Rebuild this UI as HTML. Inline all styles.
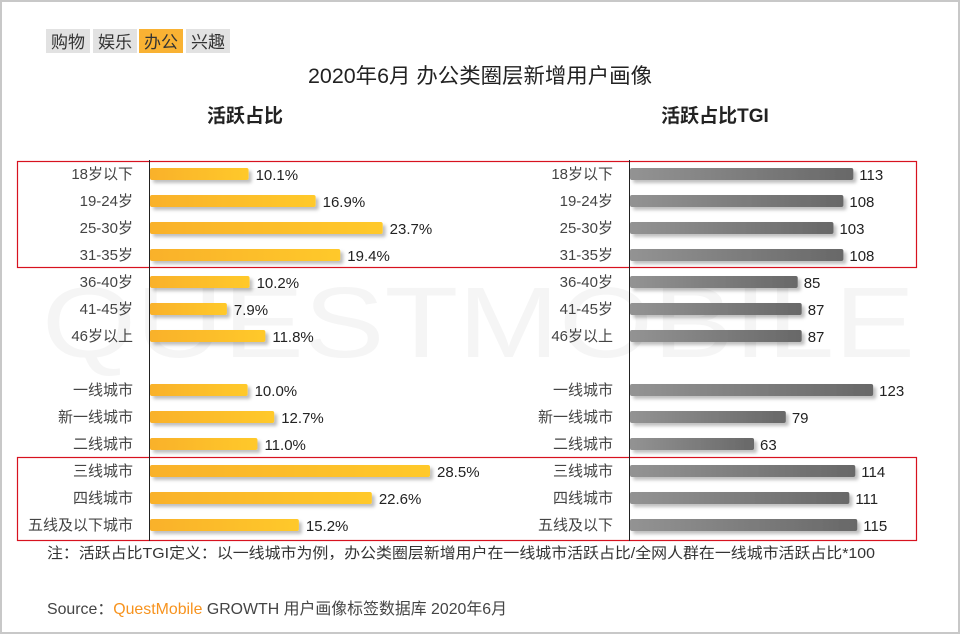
<!DOCTYPE html>
<html><head><meta charset="utf-8">
<style>
html,body{margin:0;padding:0;background:#fff}
#wrap{position:relative;width:960px;height:634px;overflow:hidden;box-sizing:border-box;border:2px solid #c8c8c8;background:#fff;font-family:"Liberation Sans","Noto Sans CJK SC",sans-serif}
svg text{font-family:"Liberation Sans","Noto Sans CJK SC",sans-serif}
</style></head><body>
<div id="wrap">
<svg id="chart" width="960" height="634" viewBox="0 0 960 634" style="position:absolute;left:-2px;top:-2px">
<defs>
<linearGradient id="gy" x1="0" x2="1"><stop offset="0" stop-color="#f9b12c"/><stop offset="1" stop-color="#ffc92a"/></linearGradient>
<linearGradient id="gg" x1="0" x2="1"><stop offset="0" stop-color="#939393"/><stop offset="1" stop-color="#686868"/></linearGradient>
<filter id="sh" x="-5%" y="-50%" width="115%" height="250%"><feDropShadow dx="3" dy="3" stdDeviation="1.5" flood-color="#000" flood-opacity="0.25"/></filter>
</defs>
<text x="42" y="357" textLength="873" lengthAdjust="spacingAndGlyphs" font-size="100" fill="#f5f5f5">QUESTMOBILE</text>
<g>
<rect x="46" y="29" width="44" height="24" fill="#e2e2e2"/>
<text x="68" y="48" text-anchor="middle" font-size="17" fill="#333">购物</text>
<rect x="93" y="29" width="44" height="24" fill="#e2e2e2"/>
<text x="115" y="48" text-anchor="middle" font-size="17" fill="#333">娱乐</text>
<rect x="139" y="29" width="44" height="24" fill="#f9b233"/>
<text x="161" y="48" text-anchor="middle" font-size="17" fill="#333">办公</text>
<rect x="186" y="29" width="44" height="24" fill="#e2e2e2"/>
<text x="208" y="48" text-anchor="middle" font-size="17" fill="#333">兴趣</text>
</g>
<text x="308" y="83" textLength="344" lengthAdjust="spacingAndGlyphs" font-size="21" fill="#222">2020年6月 办公类圈层新增用户画像</text>
<text x="245" y="122" text-anchor="middle" font-size="19" font-weight="bold" fill="#222">活跃占比</text>
<text x="715" y="122" text-anchor="middle" font-size="19" font-weight="bold" fill="#222">活跃占比TGI</text>
<rect x="17.5" y="161.5" width="899" height="106" fill="none" stroke="#d7121f" stroke-width="1.2"/>
<rect x="17.5" y="457.5" width="899" height="83" fill="none" stroke="#d7121f" stroke-width="1.2"/>
<line x1="149.5" y1="160" x2="149.5" y2="541" stroke="#222"/>
<line x1="629.5" y1="160" x2="629.5" y2="541" stroke="#222"/>
<g id="bars"></g>
<text x="47" y="558" textLength="828" lengthAdjust="spacingAndGlyphs" font-size="15" fill="#333">注：活跃占比TGI定义：以一线城市为例，办公类圈层新增用户在一线城市活跃占比/全网人群在一线城市活跃占比*100</text>
<text x="47" y="614" textLength="460" lengthAdjust="spacingAndGlyphs" font-size="16" fill="#444">Source：<tspan fill="#f7931e">QuestMobile</tspan> GROWTH 用户画像标签数据库 2020年6月</text>
</svg>
</div>
<script>
const categories=["18岁以下","19-24岁","25-30岁","31-35岁","36-40岁","41-45岁","46岁以上","","一线城市","新一线城市","二线城市","三线城市","四线城市","五线及以下城市"];
const rightCategories=["18岁以下","19-24岁","25-30岁","31-35岁","36-40岁","41-45岁","46岁以上","","一线城市","新一线城市","二线城市","三线城市","四线城市","五线及以下"];
const shareValues=[10.1,16.9,23.7,19.4,10.2,7.9,11.8,null,10.0,12.7,11.0,28.5,22.6,15.2];
const tgiValues=[113,108,103,108,85,87,87,null,123,79,63,114,111,115];
const NS="http://www.w3.org/2000/svg";
const g=document.getElementById('bars');
const yRow=i=>174+27*i;
const xL=v=>149+v*9.86;
const xR=v=>629+v*1.985;
function mk(tag,attrs){const e=document.createElementNS(NS,tag);for(const k in attrs)e.setAttribute(k,attrs[k]);return e;}
categories.forEach((c,i)=>{
  if(shareValues[i]==null)return;
  const y=yRow(i);
  const l=mk('text',{x:133,y:y+5,'text-anchor':'end','font-size':15,fill:'#444'});l.textContent=c;
  
  
  g.appendChild(l);
  const b=mk('rect',{x:150,y:y-6,width:xL(shareValues[i])-150,height:12,rx:2,fill:'url(#gy)',filter:'url(#sh)'});
  
  
  g.appendChild(b);
  const v=mk('text',{x:xL(shareValues[i])+7,y:y+6,'font-size':15,fill:'#222'});v.textContent=shareValues[i].toFixed(1)+'%';
  
  
  g.appendChild(v);
  const l2=mk('text',{x:613,y:y+5,'text-anchor':'end','font-size':15,fill:'#444'});l2.textContent=rightCategories[i];
  
  
  g.appendChild(l2);
  const b2=mk('rect',{x:630,y:y-6,width:xR(tgiValues[i])-630,height:12,rx:2,fill:'url(#gg)',filter:'url(#sh)'});
  
  
  g.appendChild(b2);
  const v2=mk('text',{x:xR(tgiValues[i])+6,y:y+6,'font-size':15,fill:'#222'});v2.textContent=tgiValues[i];
  
  
  g.appendChild(v2);
});
</script>
</body></html>
